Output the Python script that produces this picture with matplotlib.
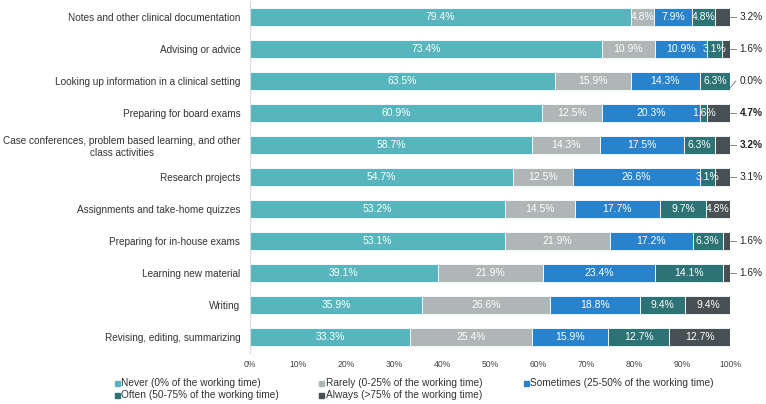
import matplotlib
matplotlib.use("Agg")
import matplotlib.pyplot as plt
from matplotlib.patches import Rectangle
import numpy as np

plt.rcParams['font.family'] = ['Liberation Sans', 'DejaVu Sans']

categories = [
    "Notes and other clinical documentation",
    "Advising or advice",
    "Looking up information in a clinical setting",
    "Preparing for board exams",
    "Case conferences, problem based learning, and other\nclass activities",
    "Research projects",
    "Assignments and take-home quizzes",
    "Preparing for in-house exams",
    "Learning new material",
    "Writing",
    "Revising, editing, summarizing",
]
never = [79.4, 73.4, 63.5, 60.9, 58.7, 54.7, 53.2, 53.1, 39.1, 35.9, 33.3]
rarely = [4.8, 10.9, 15.9, 12.5, 14.3, 12.5, 14.5, 21.9, 21.9, 26.6, 25.4]
sometimes = [7.9, 10.9, 14.3, 20.3, 17.5, 26.6, 17.7, 17.2, 23.4, 18.8, 15.9]
often = [4.8, 3.1, 6.3, 1.6, 6.3, 3.1, 9.7, 6.3, 14.1, 9.4, 12.7]
always = [3.2, 1.6, 0.0, 4.7, 3.2, 3.1, 4.8, 1.6, 1.6, 9.4, 12.7]
always_outside = [True, True, True, True, True, True, False, True, True, False, False]
always_bold = [False, False, False, True, True, False, False, False, False, False, False]

series_names = [
    "Never (0% of the working time)",
    "Rarely (0-25% of the working time)",
    "Sometimes (25-50% of the working time)",
    "Often (50-75% of the working time)",
    "Always (>75% of the working time)",
]
colors = ["#58B5BE", "#AEB6B6", "#2A82CA", "#2D7275", "#475052"]
xticks = [0, 10, 20, 30, 40, 50, 60, 70, 80, 90, 100]

W, H = 766, 404
fig = plt.figure(figsize=(W / 100, H / 100), dpi=100)
ax = fig.add_axes([250 / W, 1 - 353 / H, 480 / W, 352 / H])

series = [never, rarely, sometimes, often, always]
y = np.arange(len(categories))
left = np.zeros(len(categories))
fs = 7.3
for si, vals in enumerate(series):
    vals = np.array(vals)
    ax.barh(y, vals, left=left, height=0.56, color=colors[si],
            edgecolor="white", linewidth=0.6)
    for i, v in enumerate(vals):
        if si == 4 and always_outside[i]:
            continue
        ax.text(left[i] + v / 2, y[i], f"{v:.1f}%", ha="center", va="center",
                color="white", fontsize=7.5)
    left = left + vals

for i, v in enumerate(always):
    if not always_outside[i]:
        continue
    if v == 0:
        ax.plot([100, 101.2], [y[i] + 0.22, y[i]], color="#888888", lw=0.7,
                clip_on=False)
    else:
        ax.plot([100, 101.3], [y[i], y[i]], color="#888888", lw=0.7, clip_on=False)
    ax.text(102.0, y[i], f"{v:.1f}%", ha="left", va="center", color="#222222",
            fontsize=fs, fontweight="bold" if always_bold[i] else "normal")

ax.set_xlim(0, 100)
ax.set_ylim(len(categories) - 0.5, -0.5)
ax.set_yticks(y)
ax.set_yticklabels(categories, fontsize=7.2, color="#333333")
for t in ax.get_yticklabels():
    t.set_multialignment("center")
ax.set_xticks(xticks)
ax.set_xticklabels([f"{t}%" for t in xticks], fontsize=6.2, color="#444444")
ax.tick_params(axis="both", length=0)
ax.tick_params(axis="y", pad=7)
ax.tick_params(axis="x", pad=5)
for s in ["top", "right", "bottom"]:
    ax.spines[s].set_visible(False)
ax.spines["left"].set_color("#d8d8d8")
ax.spines["left"].set_linewidth(0.8)

# legend (row-major, 3 columns)
col_x = [115, 319, 524]
row_y = [383, 395.5]
for k, name in enumerate(series_names):
    r, c = divmod(k, 3)
    xs, ys = col_x[c], row_y[r]
    fig.patches.append(Rectangle((xs / W, 1 - (ys + 2.5) / H), 5 / W, 5 / H,
                                 transform=fig.transFigure, color=colors[k]))
    fig.text((xs + 6.5) / W, 1 - ys / H, name, ha="left", va="center",
             fontsize=fs, color="#333333")

fig.savefig("out.png", dpi=100)
